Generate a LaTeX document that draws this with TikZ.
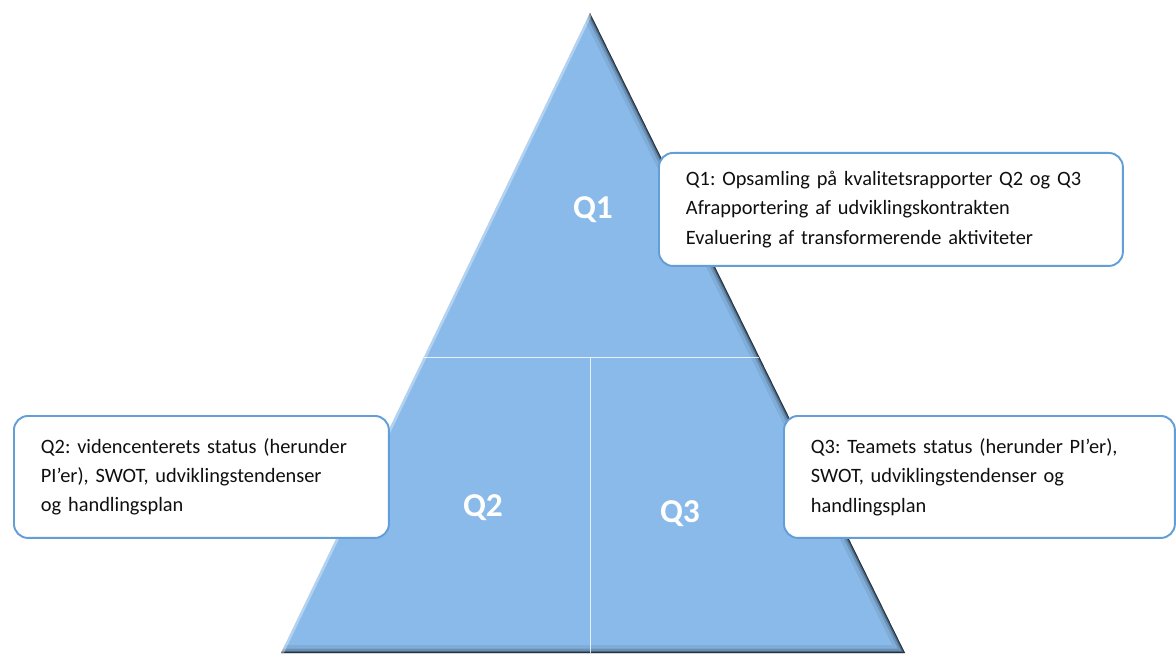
\documentclass[tikz,border=0pt]{standalone}
\usepackage{fontspec}
\setmainfont{Carlito}
\usetikzlibrary{positioning,calc}
\definecolor{pyrblue}{RGB}{138,186,233}
\definecolor{boxblue}{RGB}{98,158,216}
\definecolor{textgray}{RGB}{15,15,15}
\tikzset{
  infobox/.style={draw=boxblue, line width=1.1pt, fill=white, rounded corners=8pt,
    align=left, inner xsep=0.54cm, inner ysep=0pt, anchor=north west, text=textgray,
    font=\fontsize{11.6}{16.7}\selectfont\frenchspacing},
  qlabel/.style={text=white, font=\fontsize{19}{22}\selectfont\bfseries},
  divider/.style={white, opacity=0.8, line width=0.5pt},
}
\begin{document}
\begin{tikzpicture}[x=0.02cm,y=-0.02cm]
	\useasboundingbox (0,0) rectangle (1176,655);

	% pyramide
	\coordinate (top) at (590,13);
	\coordinate (bl) at (281,653);
	\coordinate (br) at (905,653);
	\fill[pyrblue] (top) -- (br) -- (bl) -- cycle;

	% skygge og kant
	\begin{scope}
		\clip (top) -- (br) -- (bl) -- cycle;
		\foreach \w/\o in {9pt/0.07, 5pt/0.15, 2.5pt/0.3, 1pt/0.5}
			\draw[black, opacity=\o, line width=\w] (top) -- (br) -- (bl);
		\draw[white, opacity=0.35, line width=3pt] (bl) -- (top);
	\end{scope}

	% skillelinjer
	\coordinate (ml) at ($(top)!0.5375!(bl)$);
	\coordinate (mr) at ($(top)!0.5375!(br)$);
	\coordinate (mid) at (590,357);
	\coordinate (bot) at (590,653);
	\draw[divider] (ml) -- (mr);
	\draw[divider] (mid) -- (bot);

	% Q-felter
	\node[qlabel] (q1) at (593,210) {Q1};
	\node[qlabel] (q2) at (483,508) {Q2};
	\node[qlabel] (q3) at (680,514) {Q3};

	% tekstbokse
	\node[infobox, text width=8.2cm, minimum height=2.26cm] (q1box) at (658,152)
		{Q1: Opsamling på kvalitetsrapporter Q2 og Q3\\
		 Afrapportering af udviklingskontrakten\\
		 Evaluering af transformerende aktiviteter};
	\node[infobox, text width=6.42cm, minimum height=2.44cm] (q2box) at (13,415)
		{Q2: videncenterets status (herunder\\
		 PI’er), SWOT, udviklingstendenser\\
		 og handlingsplan};
	\node[infobox, text width=6.74cm, minimum height=2.44cm] (q3box) at (783,415)
		{Q3: Teamets status (herunder PI’er),\\
		 SWOT, udviklingstendenser og\\
		 handlingsplan};
\end{tikzpicture}
\end{document}
